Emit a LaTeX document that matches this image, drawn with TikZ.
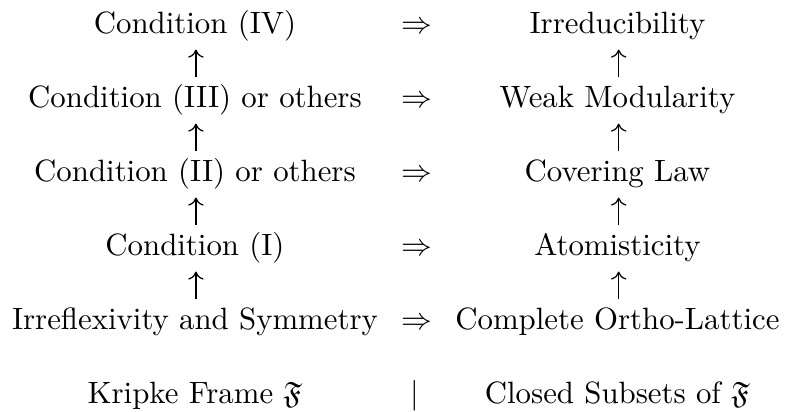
\documentclass[tikz,border=0pt]{standalone}
\usepackage{amssymb}
\usetikzlibrary{calc,arrows.meta}
\tikzset{
  lbl/.style={anchor=base,inner sep=0pt,outer sep=0pt},
  uparr/.style={-{Computer Modern Rightarrow[length=2.6pt,width=5pt,line width=0.4pt]},line width=0.4pt},
}
\begin{document}
\begin{tikzpicture}
\useasboundingbox (0,0) rectangle (255.3pt,-133.6pt);
\def\xl{63.25pt}
\def\xm{135.4pt}
\def\xr{200.3pt}
% left column
\node[lbl] (L4) at (\xl,-11.03pt) {Condition (IV)};
\node[lbl] (L3) at (\xl,-35.03pt) {Condition (III) or others};
\node[lbl] (L2) at (\xl,-59.03pt) {Condition (II) or others};
\node[lbl] (L1) at (\xl,-83.03pt) {Condition (I)};
\node[lbl] (L0) at (\xl,-107.03pt) {Irreflexivity and Symmetry};
\node[lbl] (LK) at (\xl,-131.03pt) {Kripke Frame $\mathfrak{F}$};
% middle column
\node[lbl] (M4) at (\xm,-11.03pt) {$\Rightarrow$};
\node[lbl] (M3) at (\xm,-35.03pt) {$\Rightarrow$};
\node[lbl] (M2) at (\xm,-59.03pt) {$\Rightarrow$};
\node[lbl] (M1) at (\xm,-83.03pt) {$\Rightarrow$};
\node[lbl] (M0) at (\xm,-107.03pt) {$\Rightarrow$};
\node[lbl] (MK) at (134.6pt,-131.03pt) {$|$};
% right column
\node[lbl] (R4) at (\xr,-11.03pt) {Irreducibility};
\node[lbl] (R3) at (\xr,-35.03pt) {Weak Modularity};
\node[lbl] (R2) at (\xr,-59.03pt) {Covering Law};
\node[lbl] (R1) at (\xr,-83.03pt) {Atomisticity};
\node[lbl] (R0) at (\xr,-107.03pt) {Complete Ortho-Lattice};
\node[lbl] (RK) at (\xr,-131.03pt) {Closed Subsets of $\mathfrak{F}$};
% arrows
\foreach \a/\b in {L0/L1,L1/L2,L2/L3,L3/L4}
  \draw[uparr] ($(\a.base)+(0.3pt,10.06pt)$) -- ($(\b.base)+(0.3pt,-5.06pt)$);
\foreach \a/\b in {R0/R1,R1/R2,R2/R3,R3/R4}
  \draw[uparr] ($(\a.base)+(0.4pt,10.06pt)$) -- ($(\b.base)+(0.4pt,-5.06pt)$);
\end{tikzpicture}
\end{document}
